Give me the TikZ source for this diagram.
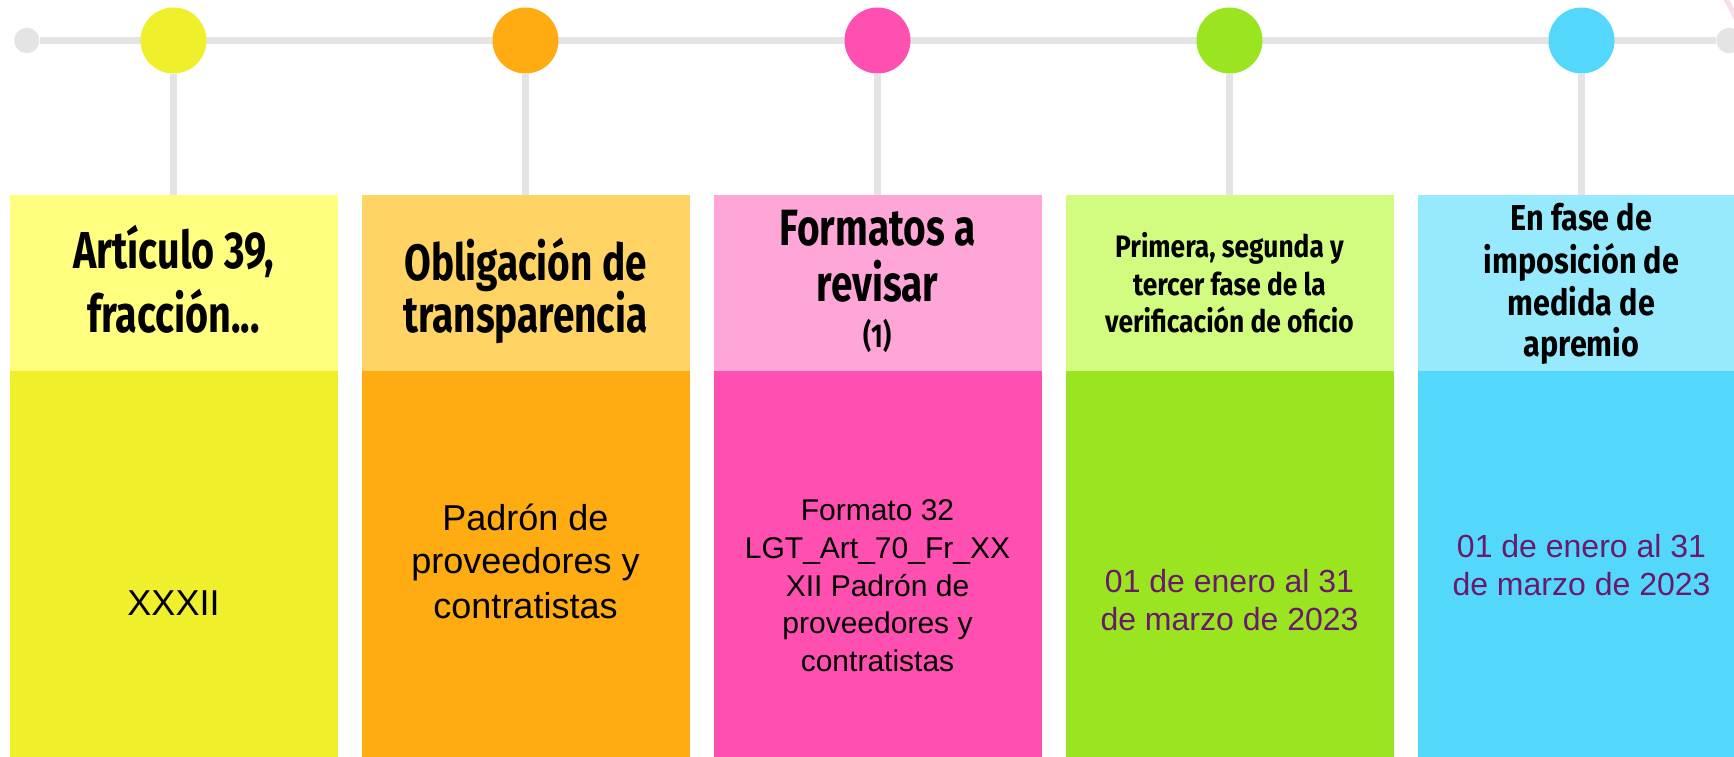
\documentclass[tikz,border=0pt]{standalone}
\usepackage{fontspec}
\setmainfont{Liberation Sans}
\newfontfamily\hfA{Fira Sans}[FakeStretch=0.76]
\newfontfamily\hfB{Fira Sans}[FakeStretch=0.85]
\usetikzlibrary{backgrounds}
\definecolor{tl}{HTML}{E4E4E4}
\definecolor{yb}{HTML}{EFEF2B}
\definecolor{yh}{HTML}{FFFE7F}
\definecolor{ob}{HTML}{FFAC12}
\definecolor{oh}{HTML}{FFD464}
\definecolor{pb}{HTML}{FF4FB1}
\definecolor{ph}{HTML}{FFA6D9}
\definecolor{gb}{HTML}{9AE520}
\definecolor{gh}{HTML}{D2FC80}
\definecolor{bb}{HTML}{53D8FC}
\definecolor{bh}{HTML}{97EAFE}
\definecolor{purp}{HTML}{6A1A6B}
\definecolor{pinkart}{HTML}{F6DDEB}
\begin{document}
\begin{tikzpicture}[x=1pt,y=-1pt,
  smalldot/.style={circle, fill=tl, inner sep=0pt, minimum size=25.4pt},
  bigdot/.style={circle, inner sep=0pt, minimum size=66pt},
  headbox/.style={rectangle, inner sep=0pt, minimum width=328pt, minimum height=175.5pt, anchor=north},
  bodybox/.style={rectangle, inner sep=0pt, minimum width=328pt, minimum height=390pt, anchor=north},
  htxt/.style={anchor=base, inner sep=0pt},
  btxt/.style={anchor=base, inner sep=0pt},
  conn/.style={draw=tl, line width=6.3pt}]
\useasboundingbox (0,0) rectangle (1734,756);
\clip (0,0) rectangle (1734,756);

% dots
\node[smalldot] (ld) at (26.8,40.5) {};
\node[smalldot] (rd) at (1729,40.5) {};
\node[bigdot, fill=yb] (c1) at (173.5,40.5) {};
\node[bigdot, fill=ob] (c2) at (525.5,40.5) {};
\node[bigdot, fill=pb] (c3) at (877.5,40.5) {};
\node[bigdot, fill=gb] (c4) at (1229.5,40.5) {};
\node[bigdot, fill=bb] (c5) at (1581.5,40.5) {};

% boxes
\node[headbox, fill=yh] (h1) at (173.5,195) {};
\node[headbox, fill=oh] (h2) at (525.5,195) {};
\node[headbox, fill=ph] (h3) at (877.5,195) {};
\node[headbox, fill=gh] (h4) at (1229.5,195) {};
\node[headbox, fill=bh] (h5) at (1581.5,195) {};
\node[bodybox, fill=yb] (b1) at (173.5,370.5) {};
\node[bodybox, fill=ob] (b2) at (525.5,370.5) {};
\node[bodybox, fill=pb] (b3) at (877.5,370.5) {};
\node[bodybox, fill=gb] (b4) at (1229.5,370.5) {};
\node[bodybox, fill=bb] (b5) at (1581.5,370.5) {};

\begin{scope}[on background layer]
\fill[white] (0,0) rectangle (1734,756);
\draw[conn] (ld) -- (rd);
\draw[conn] (c1) -- (h1.north);
\draw[conn] (c2) -- (h2.north);
\draw[conn] (c3) -- (h3.north);
\draw[conn] (c4) -- (h4.north);
\draw[conn] (c5) -- (h5.north);
\draw[pinkart, line width=5pt] (1726,-1) -- (1737,20);
\end{scope}

% header texts
\node[htxt, font=\hfA\bfseries\fontsize{52}{60}\selectfont] (t1a) at (173.5,268) {Artículo 39,};
\node[htxt, font=\hfA\bfseries\fontsize{52}{60}\selectfont] (t1b) at (173.5,332) {fracción...};
\node[htxt, font=\hfA\bfseries\fontsize{51}{60}\selectfont] (t2a) at (525.5,280) {Obligación de};
\node[htxt, font=\hfA\bfseries\fontsize{51}{60}\selectfont] (t2b) at (525.5,332) {transparencia};
\node[htxt, font=\hfA\bfseries\fontsize{51}{60}\selectfont] (t3a) at (877.5,245) {Formatos a};
\node[htxt, font=\hfA\bfseries\fontsize{51}{60}\selectfont] (t3b) at (877.5,301) {revisar};
\node[htxt, font=\hfA\bfseries\fontsize{33}{40}\selectfont] (t3c) at (877.5,347) {(1)};
\node[htxt, font=\hfB\bfseries\fontsize{31}{37}\selectfont] (t4a) at (1229.5,257) {Primera, segunda y};
\node[htxt, font=\hfB\bfseries\fontsize{31}{37}\selectfont] (t4b) at (1229.5,295) {tercer fase de la};
\node[htxt, font=\hfB\bfseries\fontsize{31}{37}\selectfont] (t4c) at (1229.5,332) {verificación de oficio};
\node[htxt, font=\hfB\bfseries\fontsize{36}{42}\selectfont] (t5a) at (1581.5,230) {En fase de};
\node[htxt, font=\hfB\bfseries\fontsize{36}{42}\selectfont] (t5b) at (1581.5,273) {imposición de};
\node[htxt, font=\hfB\bfseries\fontsize{36}{42}\selectfont] (t5c) at (1581.5,315) {medida de};
\node[htxt, font=\hfB\bfseries\fontsize{36}{42}\selectfont] (t5d) at (1581.5,356) {apremio};

% body texts
\node[btxt, font=\fontsize{36}{43}\selectfont] (s1a) at (173.5,615) {XXXII};
\node[btxt, font=\fontsize{36}{43}\selectfont] (s2a) at (525.5,530) {Padrón de};
\node[btxt, font=\fontsize{36}{43}\selectfont] (s2b) at (525.5,573) {proveedores y};
\node[btxt, font=\fontsize{36}{43}\selectfont] (s2c) at (525.5,618) {contratistas};
\node[btxt, font=\fontsize{30}{37}\selectfont] (s3a) at (877.5,520) {Formato 32};
\node[btxt, font=\fontsize{30}{37}\selectfont] (s3b) at (877.5,558) {LGT\_Art\_70\_Fr\_XX};
\node[btxt, font=\fontsize{30}{37}\selectfont] (s3c) at (877.5,596) {XII Padrón de};
\node[btxt, font=\fontsize{30}{37}\selectfont] (s3d) at (877.5,633) {proveedores y};
\node[btxt, font=\fontsize{30}{37}\selectfont] (s3e) at (877.5,671) {contratistas};
\node[btxt, text=purp, font=\fontsize{32}{38}\selectfont] (s4a) at (1229.5,592) {01 de enero al 31};
\node[btxt, text=purp, font=\fontsize{32}{38}\selectfont] (s4b) at (1229.5,630) {de marzo de 2023};
\node[btxt, text=purp, font=\fontsize{32}{38}\selectfont] (s5a) at (1581.5,557) {01 de enero al 31};
\node[btxt, text=purp, font=\fontsize{32}{38}\selectfont] (s5b) at (1581.5,595) {de marzo de 2023};
\end{tikzpicture}
\end{document}
